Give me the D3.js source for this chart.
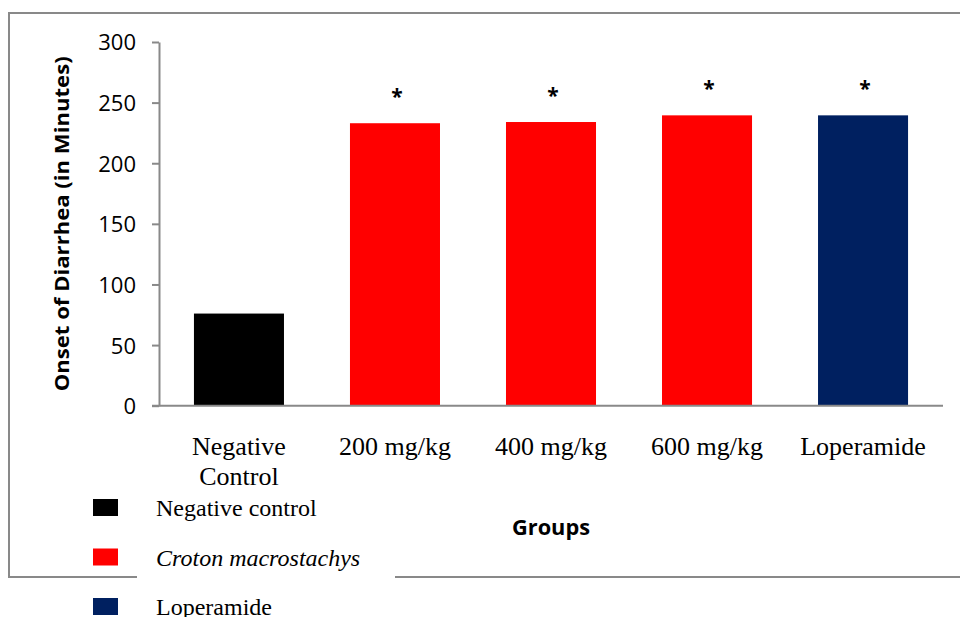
<!DOCTYPE html>
<html>
<head>
<meta charset="utf-8">
<script src="https://cdn.jsdelivr.net/npm/d3@7"></script>
<style>
  body { margin: 0; background: #fff; }
  svg { display: block; }
</style>
</head>
<body>
<svg id="svg"></svg>
<script>
// chart data
var groups = ["Negative Control", "200 mg/kg", "400 mg/kg", "600 mg/kg", "Loperamide"];
var onset = [76, 233, 234, 239.5, 239.5];
var barColors = ["#000000", "#ff0000", "#ff0000", "#ff0000", "#002060"];
var marked = [false, true, true, true, true];
var yTicks = [0, 50, 100, 150, 200, 250, 300];
var legendLabels = ["Negative control", "Croton macrostachys", "Loperamide"];
var legendColors = ["#000000", "#ff0000", "#002060"];

var width = 960,
	height = 617,
	plotLeft = 159,
	plotRight = 943,
	plotTop = 42,
	plotBottom = 405.7,
	gray = "#898989";

var svg = d3.select("#svg")
	.attr("width", width)
	.attr("height", height);

// outer frame (right edge runs off the page)
svg.append("rect")
	.attr("x", 9).attr("y", 13)
	.attr("width", 980).attr("height", 564)
	.attr("fill", "none")
	.attr("stroke", gray)
	.attr("stroke-width", 2);

var x = d3.scaleBand()
	.domain(groups)
	.range([plotLeft, plotRight])
	.paddingInner(0.423)
	.paddingOuter(0.224);

var y = d3.scaleLinear()
	.domain([0, 300])
	.range([plotBottom, plotTop]);

// y axis
var yAxis = svg.append("g")
	.attr("transform", "translate(" + plotLeft + ",0)")
	.call(d3.axisLeft(y).tickValues(yTicks).tickSize(7).tickSizeOuter(0).tickPadding(16));

yAxis.selectAll("path, line").attr("stroke", gray).attr("stroke-width", 2);
yAxis.selectAll("text")
	.attr("font-family", "'Open Sans', sans-serif")
	.attr("font-size", 22)
	.attr("fill", "#000")
	.attr("dy", "0.36em");

// bars
svg.append("g").selectAll("rect")
	.data(groups)
	.enter()
	.append("rect")
	.attr("x", function(d){ return x(d); })
	.attr("y", function(d, i){ return y(onset[i]); })
	.attr("width", x.bandwidth())
	.attr("height", function(d, i){ return y(0) - y(onset[i]); })
	.attr("fill", function(d, i){ return barColors[i]; });

// baseline drawn over bar bottoms
svg.append("line")
	.attr("x1", plotLeft - 7).attr("x2", plotRight)
	.attr("y1", plotBottom).attr("y2", plotBottom)
	.attr("stroke", gray)
	.attr("stroke-width", 2);

// significance stars
svg.append("g").selectAll("text")
	.data(groups.filter(function(d, i){ return marked[i]; }))
	.enter()
	.append("text")
	.attr("x", function(d){ return x(d) + x.bandwidth()/2 + 2; })
	.attr("y", function(d){ return y(onset[groups.indexOf(d)]) - 19; })
	.attr("text-anchor", "middle")
	.attr("font-family", "'Open Sans', sans-serif")
	.attr("font-weight", "bold")
	.attr("font-size", 21)
	.text("*");

// category labels
var catLabel = svg.append("g").selectAll("text")
	.data(groups)
	.enter()
	.append("text")
	.attr("text-anchor", "middle")
	.attr("font-family", "'Liberation Serif', 'Times New Roman', serif")
	.attr("font-size", 26)
	.attr("fill", "#000");

catLabel.each(function(d){
	var cx = x(d) + x.bandwidth()/2,
		parts = d == "Negative Control" ? ["Negative", "Control"] : [d],
		t = d3.select(this);
	parts.forEach(function(p, k){
		t.append("tspan")
			.attr("x", cx)
			.attr("y", 455 + k*30)
			.text(p);
	});
});

// axis titles
svg.append("text")
	.attr("transform", "translate(69," + ((plotTop + plotBottom)/2) + ") rotate(-90)")
	.attr("text-anchor", "middle")
	.attr("font-family", "'Open Sans', sans-serif")
	.attr("font-weight", "bold")
	.attr("font-size", 20)
	.attr("textLength", 335)
	.attr("lengthAdjust", "spacingAndGlyphs")
	.text("Onset of Diarrhea (in Minutes)");

svg.append("text")
	.attr("x", (plotLeft + plotRight)/2)
	.attr("y", 535)
	.attr("text-anchor", "middle")
	.attr("font-family", "'Open Sans', sans-serif")
	.attr("font-weight", "bold")
	.attr("font-size", 21)
	.attr("textLength", 78)
	.attr("lengthAdjust", "spacingAndGlyphs")
	.text("Groups");

// legend box hides part of the frame
svg.append("rect")
	.attr("x", 137).attr("y", 570)
	.attr("width", 258).attr("height", 14)
	.attr("fill", "#fff");

var legend = svg.append("g").selectAll("g")
	.data(legendLabels)
	.enter()
	.append("g")
	.attr("transform", function(d, i){ return "translate(0," + (i*49.5) + ")"; });

legend.append("rect")
	.attr("x", 93).attr("y", 499)
	.attr("width", 25).attr("height", 17)
	.attr("fill", function(d, i){ return legendColors[i]; });

legend.append("text")
	.attr("x", 156).attr("y", 516)
	.attr("font-family", "'Liberation Serif', 'Times New Roman', serif")
	.attr("font-size", 24)
	.attr("font-style", function(d, i){ return i == 1 ? "italic" : "normal"; })
	.attr("fill", "#000")
	.text(function(d){ return d; });
</script>
</body>
</html>
